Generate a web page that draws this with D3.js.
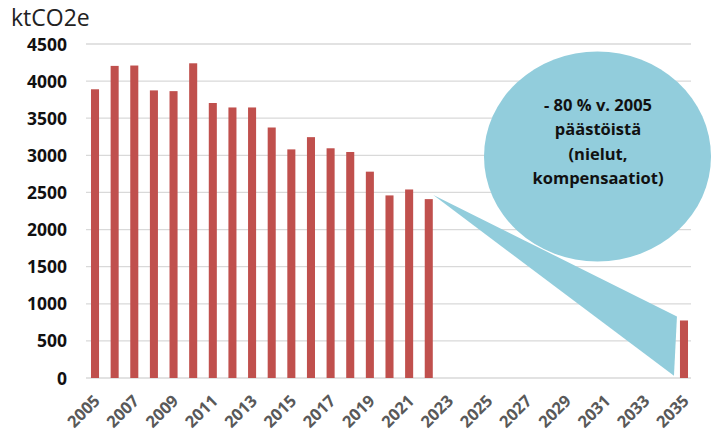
<!DOCTYPE html>
<head>
  <meta charset="utf-8">
  <script src="https://d3js.org/d3.v7.min.js"></script>
  <style>
    body { margin:0; background:#fff; font-family: "Open Sans", sans-serif; }
  </style>
</head>
<body>
  <script>
    // data
    var years = d3.range(2005, 2036);
    var actualYears = [2005, 2006, 2007, 2008, 2009, 2010, 2011, 2012, 2013, 2014, 2015, 2016, 2017, 2018, 2019, 2020, 2021, 2022, 2035];
    var emissions = [3890, 4205, 4210, 3875, 3865, 4240, 3705, 3645, 3645, 3375, 3080, 3245, 3095, 3045, 2780, 2460, 2540, 2410, 775];
    var yTicks = [0, 500, 1000, 1500, 2000, 2500, 3000, 3500, 4000, 4500];
    var xTickYears = d3.range(2005, 2036, 2);
    var calloutLines = ["- 80 % v. 2005", "päästöistä", "(nielut,", "kompensaatiot)"];

    var data = actualYears.map(function(y, i) { return { year: y, value: emissions[i] }; });

    var W = 713, H = 437;
    var svg = d3.select("body").append("svg")
      .attr("width", W)
      .attr("height", H);

    var x = d3.scaleBand()
      .domain(years)
      .range([85.2, 693.8])
      .paddingInner(0.59)
      .paddingOuter(0.295);

    var y = d3.scaleLinear()
      .domain([0, 4500])
      .range([378, 44]);

    // gridlines
    svg.append('g').selectAll('line')
      .data(yTicks)
      .enter().append('line')
      .attr('x1', 86).attr('x2', 691)
      .attr('y1', function(d) { return y(d); })
      .attr('y2', function(d) { return y(d); })
      .style('stroke', '#d9d9d9')
      .style('stroke-width', 1.3);

    // y labels
    svg.append('g').selectAll('text')
      .data(yTicks)
      .enter().append('text')
      .text(function(d) { return d; })
      .attr('x', 67)
      .attr('y', function(d) { return y(d) + 6.5; })
      .attr('text-anchor', 'end')
      .style('font-size', '17.5px')
      .style('font-weight', 'bold')
      .style('fill', '#111');

    svg.append('text')
      .text('ktCO2e')
      .attr('x', 11)
      .attr('y', 26)
      .style('font-size', '23px')
      .style('fill', '#222');

    // x labels
    svg.append('g').selectAll('text')
      .data(xTickYears)
      .enter().append('text')
      .text(function(d) { return d; })
      .attr('text-anchor', 'end')
      .attr('transform', function(d) {
        return 'translate(' + (x(d) + x.bandwidth() / 2 + 6) + ',' + 402 + ') rotate(-45)';
      })
      .style('font-size', '16.5px')
      .style('font-weight', 'bold')
      .style('fill', '#595959');

    // bars
    svg.selectAll('.bar')
      .data(data)
      .enter().append('rect')
      .attr('class', 'bar')
      .attr('x', function(d) { return x(d.year); })
      .attr('y', function(d) { return y(d.value); })
      .attr('width', x.bandwidth())
      .attr('height', function(d) { return y(0) - y(d.value); })
      .style('fill', '#c0504d');

    // callout
    var last = data[17], target = data[18];
    var tipX = x(last.year) + x.bandwidth() + 0.5, tipY = y(last.value) - 4;
    var baseX = x(target.year) - 3;
    var callColor = '#92cddc';
    svg.append('polygon')
      .attr('points', [
        [tipX, tipY],
        [baseX, y(830)],
        [baseX - 3, y(30)]
      ].map(function(p) { return p.join(','); }).join(' '))
      .style('fill', callColor);

    svg.append('ellipse')
      .attr('cx', 597.5).attr('cy', 156.5)
      .attr('rx', 113.5).attr('ry', 105)
      .style('fill', callColor);

    svg.append('g').selectAll('text')
      .data(calloutLines)
      .enter().append('text')
      .text(function(d) { return d; })
      .attr('x', 598)
      .attr('y', function(d, i) { return 111 + i * 24.3; })
      .attr('text-anchor', 'middle')
      .style('font-size', '16.5px')
      .style('font-weight', 'bold')
      .style('fill', '#111');
  </script>
</body>
